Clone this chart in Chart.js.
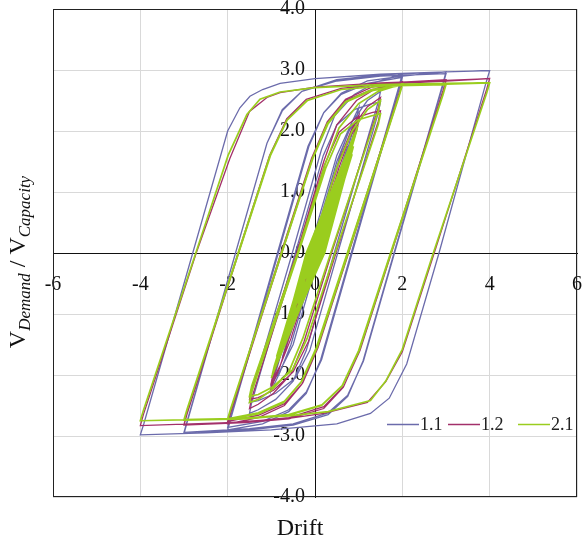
<!DOCTYPE html>
<html>
<head>
<meta charset="utf-8">
<script src="https://cdn.jsdelivr.net/npm/chart.js@4.4.0/dist/chart.umd.min.js"></script>
<style>
  html, body { margin: 0; padding: 0; background: #fff; }
  #wrap { width: 584px; height: 541px; position: relative; }
</style>
</head>
<body>
<div id="wrap"><canvas id="hyst"></canvas></div>
<script>
// series names as in the legend
var seriesNames = ["1.1", "1.2", "2.1"];

// [drift, V_demand / V_capacity]
var loops11 = [
  [0,0],[0.25,0.6],[0.02,0],[-0.25,-0.58],[-0.02,0],[0.5,1.18],[0.04,0],[-0.5,-1.15],[-0.05,0],[0.75,1.75],[0.07,0],[-0.75,-1.72],[-0.08,0],[0.6,1.65],[0.85,2.15],[1.0,2.38],
  [0.95,2.2],[0.05,0],[-0.55,-1.5],[-0.8,-1.95],[-1.0,-2.25],
  [-0.95,-2.08],[-0.1,0],[0.5,1.5],[0.78,2.0],[1.0,2.25],
  [0.95,2.1],[0.1,0],[-0.5,-1.5],[-0.78,-1.9],[-1.0,-2.15],
  [-0.95,-2.0],[-0.14,0],[0.5,1.6],[0.85,2.15],[1.2,2.5],[1.5,2.65],
  [1.45,2.48],[0.44,0],[-0.2,-1.6],[-0.5,-2.1],[-0.9,-2.4],[-1.3,-2.57],[-1.5,-2.63],
  [-1.45,-2.45],[-0.45,0],[0.19,1.6],[0.5,2.1],[0.9,2.35],[1.3,2.45],[1.5,2.48],
  [1.45,2.3],[0.52,0],[-0.12,-1.6],[-0.45,-2.05],[-0.9,-2.3],[-1.3,-2.42],[-1.5,-2.45],
  [-1.45,-2.28],[-0.52,0],[0.15,1.7],[0.45,2.25],[0.9,2.6],[1.4,2.8],[2.0,2.93],
  [1.93,2.75],[0.83,0],[0.13,-1.75],[-0.2,-2.3],[-0.6,-2.6],[-1.2,-2.8],[-2.0,-2.9],
  [-1.93,-2.72],[-0.84,0],[-0.14,1.75],[0.2,2.3],[0.6,2.6],[1.2,2.78],[2.0,2.88],
  [1.93,2.7],[0.85,0],[0.15,-1.75],[-0.2,-2.28],[-0.6,-2.57],[-1.2,-2.76],[-2.0,-2.86],
  [-1.93,-2.68],[-0.86,0],[-0.16,1.75],[0.2,2.3],[0.6,2.62],[1.2,2.82],[2.0,2.9],[3.0,2.97],
  [2.93,2.78],[1.81,0],[1.1,-1.77],[0.75,-2.35],[0.3,-2.65],[-0.5,-2.82],[-1.5,-2.9],[-3.0,-2.96],
  [-2.93,-2.78],[-1.82,0],[-1.1,1.8],[-0.75,2.35],[-0.3,2.65],[0.5,2.82],[1.5,2.9],[3.0,2.94],
  [2.93,2.75],[1.82,0],[1.11,-1.77],[0.75,-2.33],[0.3,-2.62],[-0.5,-2.8],[-1.5,-2.88],[-3.0,-2.94],
  [-2.93,-2.76],[-1.82,0],[-1.1,1.8],[-0.75,2.33],[-0.3,2.65],[0.5,2.84],[1.5,2.92],[3.0,2.97],[4.0,2.99],
  [3.92,2.8],[2.84,0],[2.1,-1.82],[1.7,-2.38],[1.27,-2.63],[0.5,-2.8],[-1.0,-2.9],[-2.5,-2.95],[-4.0,-2.98],
  [-3.92,-2.8],[-2.8,0],[-2.0,2.0],[-1.72,2.38],[-1.49,2.57],[-1.2,2.68],[-0.8,2.78],[0,2.86],[1.5,2.93],[3.0,2.97],[4.0,2.99]
];

var loops12 = [
  [0,0],[0.25,0.53],[0.02,0],[-0.25,-0.52],[-0.02,0],[0.5,1.06],[0.05,0],[-0.5,-1.05],[-0.05,0],[0.75,1.6],[0.08,0],[-0.75,-1.58],[-0.1,0],[0.6,1.6],[0.85,2.05],[1.0,2.25],
  [0.95,2.08],[0.0,0],[-0.6,-1.4],[-0.82,-1.9],[-1.0,-2.2],
  [-0.95,-2.02],[-0.05,0],[0.55,1.4],[0.8,1.9],[1.0,2.15],
  [0.95,2.0],[0.05,0],[-0.55,-1.4],[-0.8,-1.85],[-1.0,-2.12],
  [-0.95,-1.95],[-0.1,0],[0.55,1.5],[0.9,2.1],[1.2,2.4],[1.5,2.55],
  [1.45,2.38],[0.38,0],[-0.25,-1.45],[-0.55,-1.98],[-0.95,-2.3],[-1.3,-2.48],[-1.5,-2.55],
  [-1.45,-2.38],[-0.4,0],[0.22,1.45],[0.55,1.98],[0.95,2.22],[1.3,2.3],[1.5,2.33],
  [1.45,2.16],[0.48,0],[-0.15,-1.45],[-0.5,-1.95],[-0.95,-2.25],[-1.3,-2.37],[-1.5,-2.4],
  [-1.45,-2.22],[-0.42,0],[0.2,1.5],[0.5,2.1],[0.95,2.5],[1.4,2.7],[2.0,2.81],
  [1.93,2.63],[0.75,0],[0.05,-1.55],[-0.3,-2.15],[-0.7,-2.5],[-1.3,-2.7],[-2.0,-2.8],
  [-1.93,-2.62],[-0.76,0],[-0.06,1.55],[0.3,2.15],[0.7,2.5],[1.3,2.68],[2.0,2.78],
  [1.93,2.6],[0.77,0],[0.07,-1.55],[-0.28,-2.13],[-0.7,-2.47],[-1.3,-2.66],[-2.0,-2.76],
  [-1.93,-2.58],[-0.78,0],[-0.08,1.55],[0.28,2.15],[0.7,2.52],[1.3,2.72],[2.0,2.8],[3.0,2.84],
  [2.93,2.66],[1.74,0],[1.02,-1.6],[0.65,-2.2],[0.2,-2.55],[-0.6,-2.72],[-1.6,-2.78],[-3.0,-2.82],
  [-2.93,-2.64],[-1.75,0],[-1.03,1.6],[-0.65,2.2],[-0.2,2.52],[0.6,2.7],[1.6,2.78],[3.0,2.82],
  [2.93,2.64],[1.75,0],[1.03,-1.6],[0.66,-2.18],[0.2,-2.52],[-0.6,-2.7],[-1.6,-2.77],[-3.0,-2.81],
  [-2.93,-2.63],[-1.76,0],[-1.04,1.6],[-0.66,2.18],[-0.2,2.52],[0.6,2.7],[1.6,2.77],[3.0,2.82],[4.0,2.86],
  [3.93,2.68],[2.73,0],[2.0,-1.62],[1.62,-2.11],[1.2,-2.45],[0.2,-2.63],[-0.6,-2.71],[-2.0,-2.78],[-4.0,-2.83],
  [-3.93,-2.65],[-2.72,0],[-1.95,1.55],[-1.5,2.32],[-1.1,2.55],[-0.8,2.63],[0,2.72],[1.5,2.79],[3.0,2.83],[4.0,2.86]
];

var loops21 = [
  [0,0],[0.2,0.42],[0.02,0],[-0.2,-0.42],[-0.02,0],[0.2,0.42],[0.03,0],[-0.2,-0.41],[-0.03,0],
  [0.4,0.84],[0.05,0],[-0.4,-0.83],[-0.05,0],[0.4,0.84],[0.06,0],[-0.4,-0.82],[-0.06,0],
  [0.6,1.27],[0.08,0],[-0.6,-1.25],[-0.08,0],[0.6,1.26],[0.09,0],[-0.6,-1.24],[-0.09,0],[0.6,1.25],[0.1,0],[-0.6,-1.24],[-0.1,0],
  [0.8,1.68],[0.1,0],[-0.8,-1.66],[-0.1,0],[0.8,1.67],[0.11,0],[-0.8,-1.65],[-0.11,0],[0.8,1.66],[0.12,0],[-0.8,-1.65],[-0.12,0],
  [0.85,1.62],[0.16,0],[-0.88,-1.7],[-0.17,0],[0.9,1.95],[0.19,0],[-0.92,-1.9],[-0.2,0],[0.88,1.75],[0.22,0],[-0.85,-1.72],[-0.2,0],
  [0.98,2.08],[0.12,0],[-1.0,-2.05],[-0.13,0],[0.97,2.05],[0.13,0],[-0.99,-2.03],[-0.14,0],[0.96,2.02],[0.15,0],[-0.98,-2.0],
  [-0.93,-1.85],[-0.12,0],[0.5,1.4],[0.85,2.0],[1.2,2.35],[1.5,2.5],
  [1.45,2.33],[0.36,0],[-0.28,-1.4],[-0.6,-1.95],[-1.0,-2.25],[-1.3,-2.4],[-1.5,-2.45],
  [-1.45,-2.28],[-0.38,0],[0.25,1.4],[0.58,1.95],[0.98,2.18],[1.3,2.25],[1.5,2.28],
  [1.45,2.11],[0.46,0],[-0.18,-1.4],[-0.52,-1.92],[-0.98,-2.2],[-1.3,-2.32],[-1.5,-2.35],
  [-1.45,-2.18],[-0.4,0],[0.23,1.45],[0.55,2.05],[1.0,2.45],[1.45,2.65],[2.0,2.77],
  [1.93,2.6],[0.74,0],[0.03,-1.55],[-0.32,-2.12],[-0.72,-2.45],[-1.3,-2.64],[-2.0,-2.73],
  [-1.93,-2.56],[-0.76,0],[-0.05,1.55],[0.3,2.12],[0.7,2.47],[1.3,2.66],[2.0,2.75],
  [1.93,2.58],[0.76,0],[0.05,-1.55],[-0.3,-2.1],[-0.7,-2.43],[-1.3,-2.62],[-2.0,-2.72],
  [-1.93,-2.55],[-0.77,0],[-0.06,1.55],[0.28,2.12],[0.7,2.48],[1.3,2.68],[2.0,2.75],[3.0,2.77],
  [2.93,2.6],[1.73,0],[1.0,-1.6],[0.62,-2.18],[0.15,-2.5],[-0.6,-2.66],[-1.6,-2.72],[-3.0,-2.74],
  [-2.93,-2.57],[-1.75,0],[-1.02,1.6],[-0.64,2.18],[-0.17,2.5],[0.6,2.68],[1.6,2.74],[3.0,2.76],
  [2.93,2.59],[1.74,0],[1.01,-1.6],[0.63,-2.17],[0.16,-2.49],[-0.6,-2.65],[-1.6,-2.71],[-3.0,-2.73],
  [-2.93,-2.56],[-1.76,0],[-1.03,1.6],[-0.65,2.17],[-0.18,2.5],[0.6,2.68],[1.6,2.74],[3.0,2.77],[4.0,2.79],
  [3.93,2.62],[2.71,0],[2.0,-1.58],[1.62,-2.1],[1.27,-2.42],[0.3,-2.6],[-0.6,-2.67],[-2.0,-2.72],[-4.0,-2.75],
  [-3.93,-2.58],[-2.73,0],[-1.99,1.6],[-1.56,2.27],[-1.26,2.52],[-0.8,2.64],[0,2.71],[1.5,2.76],[3.0,2.78],[4.0,2.79]
];

var serif = "'Liberation Serif', 'Times New Roman', serif";

function toPoints(arr) {
  return arr.map(function (p) { return {x: p[0], y: p[1]}; });
}

// the axes sit at the origin, so keep their label overhang out of the layout
function noPadding(scale) {
  scale.paddingLeft = 0;
  scale.paddingRight = 0;
  scale.paddingTop = 0;
  scale.paddingBottom = 0;
}

// frame round the plot, axis titles and the legend inside the plot
var extras = {
  id: 'extras',
  afterDraw: function (chart) {
    var ctx = chart.ctx, a = chart.chartArea;
    ctx.save();
    ctx.strokeStyle = '#222';
    ctx.lineWidth = 1;
    ctx.strokeRect(Math.round(a.left) + 0.5, Math.round(a.top) + 0.5,
                   Math.round(a.right - a.left) - 1, Math.round(a.bottom - a.top) - 1);

    ctx.fillStyle = '#111';
    ctx.textBaseline = 'alphabetic';
    ctx.textAlign = 'center';
    ctx.font = '24px ' + serif;
    ctx.fillText('Drift', 300, 535);

    // y title with subscripts
    var parts = [
      {t: 'V', f: '24px ' + serif, dy: 0},
      {t: 'Demand', f: 'italic 17px ' + serif, dy: 5},
      {t: ' / ', f: '24px ' + serif, dy: 0},
      {t: 'V', f: '24px ' + serif, dy: 0},
      {t: 'Capacity', f: 'italic 17px ' + serif, dy: 5}
    ];
    var total = 0;
    parts.forEach(function (p) { ctx.font = p.f; p.w = ctx.measureText(p.t).width; total += p.w; });
    ctx.translate(25, 262);
    ctx.rotate(-Math.PI / 2);
    ctx.textAlign = 'left';
    var cx = -total / 2;
    parts.forEach(function (p) { ctx.font = p.f; ctx.fillText(p.t, cx, p.dy); cx += p.w; });
    ctx.restore();

    // legend
    ctx.save();
    var legendX = [387, 448, 518], ly = 424.5;
    ctx.font = '18px ' + serif;
    ctx.textAlign = 'left';
    ctx.textBaseline = 'middle';
    chart.data.datasets.forEach(function (ds, i) {
      ctx.strokeStyle = ds.borderColor;
      ctx.lineWidth = 1.5;
      ctx.beginPath();
      ctx.moveTo(legendX[i], ly);
      ctx.lineTo(legendX[i] + 32, ly);
      ctx.stroke();
      ctx.fillStyle = '#222';
      ctx.fillText(ds.label, legendX[i] + 33, ly + 1);
    });
    ctx.restore();
  }
};

var ctx = document.getElementById('hyst').getContext('2d');
var hystChart = new Chart(ctx, {
  type: 'scatter',
  data: {
    datasets: [
      { label: seriesNames[0], data: toPoints(loops11), borderColor: '#6b6bab', borderWidth: 1.3, order: 3 },
      { label: seriesNames[1], data: toPoints(loops12), borderColor: '#a3306a', borderWidth: 1.3, order: 2 },
      { label: seriesNames[2], data: toPoints(loops21), borderColor: '#9acd1e', borderWidth: 1.7, order: 1 }
    ]
  },
  options: {
    responsive: true,
    maintainAspectRatio: false,
    animation: false,
    showLine: true,
    elements: {
      point: { radius: 0, hoverRadius: 0 },
      line: { tension: 0, fill: false }
    },
    layout: { padding: { left: 53, right: 7, top: 9, bottom: 44 } },
    plugins: {
      legend: { display: false },
      tooltip: { enabled: false }
    },
    scales: {
      x: {
        type: 'linear', min: -6, max: 6, position: { y: 0 },
        afterFit: noPadding,
        ticks: {
          stepSize: 2, padding: 20, color: '#111', autoSkip: false, maxRotation: 0,
          font: { family: serif, size: 20 },
          callback: function (v) { return String(v); }
        },
        grid: { color: '#d9d9d9', lineWidth: 1, drawTicks: false },
        border: { color: '#111', width: 1 }
      },
      y: {
        type: 'linear', min: -4, max: 4, position: 'center',
        afterFit: noPadding,
        ticks: {
          stepSize: 1, padding: 10, color: '#111', autoSkip: false,
          font: { family: serif, size: 20 },
          callback: function (v) { return v.toFixed(1); }
        },
        grid: { color: '#d9d9d9', lineWidth: 1, drawTicks: false },
        border: { color: '#111', width: 1 }
      }
    }
  },
  plugins: [extras]
});
</script>
</body>
</html>
